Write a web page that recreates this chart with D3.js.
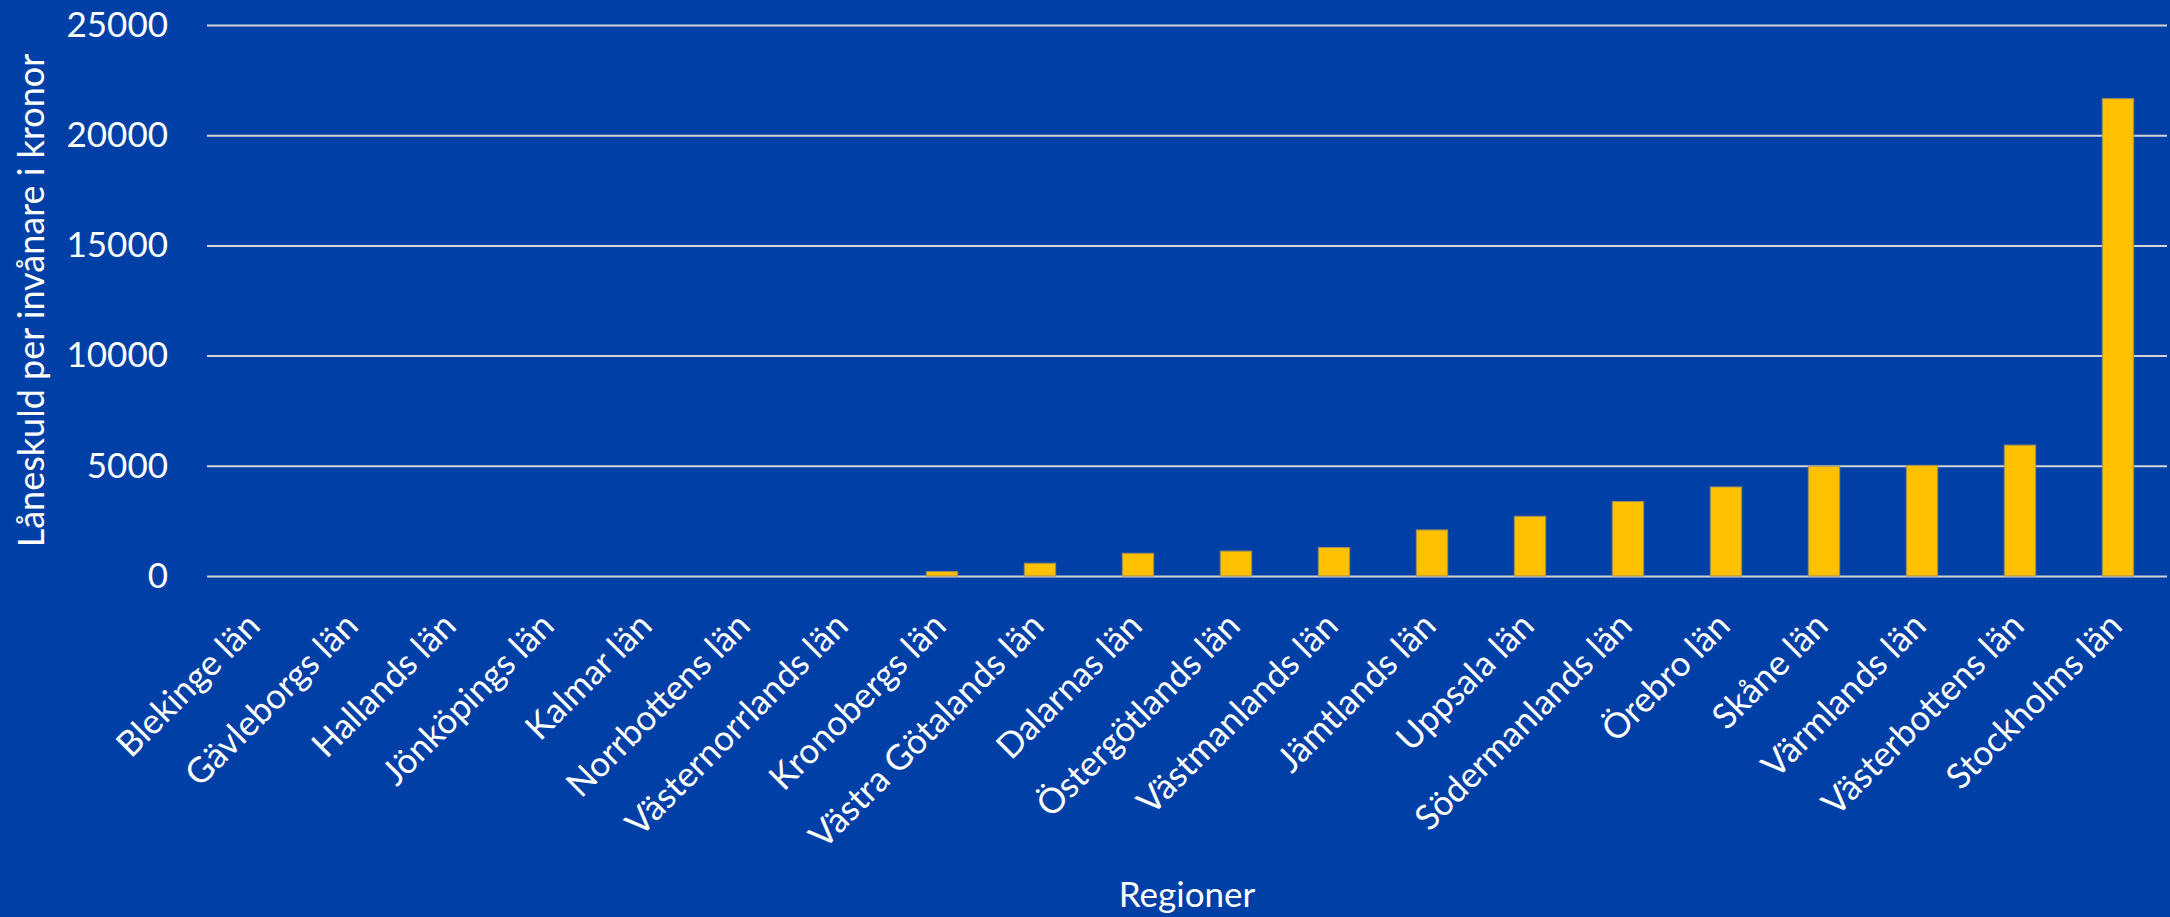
<!DOCTYPE html>
<html>
<head>
<meta charset="utf-8">
<script src="https://cdn.jsdelivr.net/npm/d3@7"></script>
<style>
  html, body { margin: 0; padding: 0; background: #0040a6; }
  svg { display: block; }
  text { font-family: Lato, "Open Sans", sans-serif; font-weight: 400; }
  .tick text { fill: #fff; }
  .grid line { stroke: #d4d4d4; stroke-width: 2px; }
</style>
</head>
<body>
<svg id="chart" width="2170" height="917"></svg>
<script>
// regions, sorted by debt per inhabitant
var regions = ["Blekinge län", "Gävleborgs län", "Hallands län", "Jönköpings län",
  "Kalmar län", "Norrbottens län", "Västernorrlands län", "Kronobergs län",
  "Västra Götalands län", "Dalarnas län", "Östergötlands län", "Västmanlands län",
  "Jämtlands län", "Uppsala län", "Södermanlands län", "Örebro län",
  "Skåne län", "Värmlands län", "Västerbottens län", "Stockholms län"];

// Låneskuld per invånare (kr)
var debt = [0, 0, 0, 0, 0, 0, 0, 200, 580, 1030, 1130, 1290,
  2090, 2710, 3380, 4040, 4980, 5020, 5940, 21660];

var yTicks = [0, 5000, 10000, 15000, 20000, 25000];

var svg = d3.select("#chart");
var width = 2170, height = 917;
var margin = {top: 25, right: 3, bottom: 341, left: 207};

var x = d3.scaleBand()
    .domain(regions)
    .range([margin.left, width - margin.right])
    .paddingInner(0.68)
    .paddingOuter(0.34);

var y = d3.scaleLinear()
    .domain([0, 25000])
    .range([height - margin.bottom, margin.top]);

svg.append("rect")
    .attr("width", width)
    .attr("height", height)
    .style("fill", "#0040a6");

// gridlines + y tick labels
var yAxis = svg.append("g")
    .attr("class", "grid")
    .attr("transform", "translate(" + margin.left + ",0)")
    .call(d3.axisLeft(y)
      .tickValues(yTicks)
      .tickFormat(d3.format("d"))
      .tickSize(-(width - margin.left - margin.right))
      .tickPadding(39));
yAxis.select(".domain").remove();
yAxis.selectAll(".tick text").style("font-size", "35px");

// bars
svg.append("g")
  .selectAll("rect")
  .data(regions)
  .enter().append("rect")
    .attr("x", d => x(d))
    .attr("width", x.bandwidth())
    .attr("y", (d, i) => y(debt[i]))
    .attr("height", (d, i) => y(0) - y(debt[i]))
    .style("fill", "#ffc000")
    .style("stroke", (d, i) => debt[i] > 0 ? "#9c8f5c" : "none")
    .style("stroke-width", "1px");

// x labels, rotated
var xAxis = svg.append("g")
    .attr("transform", "translate(0," + y(0) + ")")
    .call(d3.axisBottom(x).tickSize(0).tickPadding(0));
xAxis.select(".domain").remove();
xAxis.selectAll(".tick text")
    .style("font-size", "35px")
    .style("text-anchor", "end")
    .attr("dy", null)
    .attr("y", null)
    .attr("transform", "translate(6,52) rotate(-45)");

// axis titles
svg.append("text")
    .attr("transform", "translate(44," + (y(12500)) + ") rotate(-90)")
    .attr("text-anchor", "middle")
    .style("font-size", "36px")
    .style("fill", "#fff")
    .text("Låneskuld per invånare i kronor");

svg.append("text")
    .attr("x", (margin.left + width - margin.right) / 2)
    .attr("y", 907)
    .attr("text-anchor", "middle")
    .style("font-size", "35px")
    .style("fill", "#fff")
    .text("Regioner");
</script>
</body>
</html>
